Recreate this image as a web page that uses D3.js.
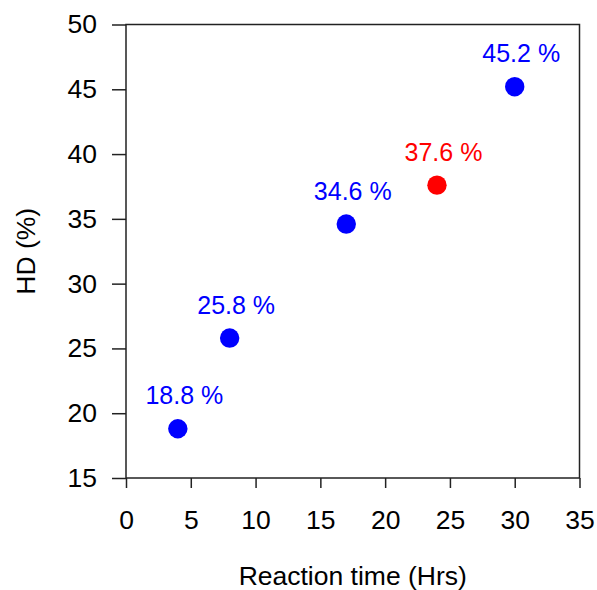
<!DOCTYPE html>
<html>
<head>
<meta charset="utf-8">
<script src="https://cdn.jsdelivr.net/npm/d3@7"></script>
<style>
  body { margin: 0; background: #fff; }
  svg { font-family: "Liberation Sans", Arial, sans-serif; }
</style>
</head>
<body>
<div class="graph"></div>
<script>
const width = 597,
      height = 590;

// data
const reactionTime = [4, 8, 17, 24, 30];
const hd = [18.8, 25.8, 34.6, 37.6, 45.2];
const pointColors = ["#0000ff", "#0000ff", "#0000ff", "#ff0000", "#0000ff"];
const xTicks = [0, 5, 10, 15, 20, 25, 30, 35];
const yTicks = [15, 20, 25, 30, 35, 40, 45, 50];

const plotLeft = 126, plotRight = 579.5, plotTop = 24.5, plotBottom = 478;

const x = d3.scaleLinear().domain([0, 35]).range([plotLeft, plotRight]);
const y = d3.scaleLinear().domain([15, 50]).range([plotBottom, plotTop]);

const svg = d3.select(".graph")
  .append("svg")
  .attr("width", width)
  .attr("height", height);

const xAxis = d3.axisBottom(x).tickValues(xTicks).tickSize(10).tickPadding(22).tickSizeOuter(0);
const yAxis = d3.axisLeft(y).tickValues(yTicks).tickSize(14).tickPadding(15).tickSizeOuter(0);

const gx = svg.append("g")
  .attr("transform", `translate(0,${plotBottom})`)
  .call(xAxis);
const gy = svg.append("g")
  .attr("transform", `translate(${plotLeft},0)`)
  .call(yAxis);

[gx, gy].forEach(g => {
  g.select(".domain").remove();
  g.selectAll("line").attr("stroke", "#222").attr("stroke-width", 1.5);
  g.selectAll("text").attr("font-size", 26.5).attr("fill", "#000");
});

// frame
svg.append("rect")
  .attr("x", plotLeft).attr("y", plotTop)
  .attr("width", plotRight - plotLeft).attr("height", plotBottom - plotTop)
  .attr("fill", "none").attr("stroke", "#222").attr("stroke-width", 1.5);

// points
svg.selectAll("circle.pt")
  .data(reactionTime)
  .enter()
  .append("circle")
  .attr("class", "pt")
  .attr("cx", d => x(d))
  .attr("cy", (d, i) => y(hd[i]))
  .attr("r", 9.7)
  .attr("fill", (d, i) => pointColors[i]);

// value labels
svg.selectAll("text.lbl")
  .data(reactionTime)
  .enter()
  .append("text")
  .attr("class", "lbl")
  .attr("x", d => x(d) + 6.5)
  .attr("y", (d, i) => y(hd[i]) - 24.5)
  .attr("text-anchor", "middle")
  .attr("font-size", 25)
  .attr("fill", (d, i) => pointColors[i])
  .text((d, i) => hd[i].toFixed(1) + " %");

// axis titles
svg.append("text")
  .attr("x", (plotLeft + plotRight) / 2)
  .attr("y", 585)
  .attr("text-anchor", "middle")
  .attr("font-size", 26.5)
  .text("Reaction time (Hrs)");

svg.append("text")
  .attr("transform", `translate(35,${(plotTop + plotBottom) / 2}) rotate(-90)`)
  .attr("text-anchor", "middle")
  .attr("font-size", 26.5)
  .text("HD (%)");
</script>
</body>
</html>
